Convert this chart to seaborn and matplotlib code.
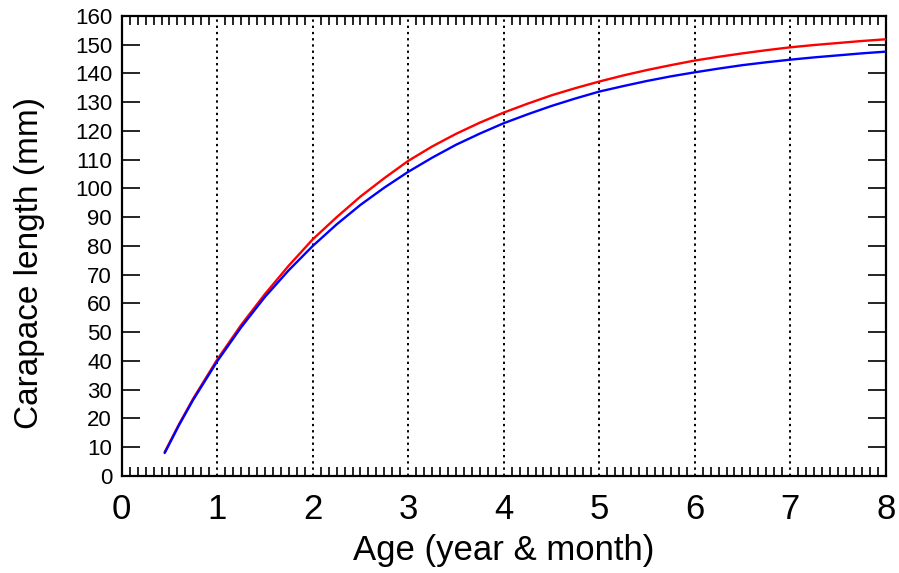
import numpy as np
import pandas as pd
import matplotlib
matplotlib.use("Agg")
import matplotlib.pyplot as plt
import seaborn as sns
from matplotlib.ticker import MultipleLocator

# Age (years) at which curves were read
age = [0.45, 0.6, 0.75, 1.0, 1.25, 1.5, 1.75, 2.0, 2.25, 2.5, 2.75, 3.0, 3.25, 3.5, 3.75, 4.0,
       4.25, 4.5, 4.75, 5.0, 5.25, 5.5, 5.75, 6.0, 6.25, 6.5, 6.75, 7.0, 7.25, 7.5, 7.75, 8.0]
# Carapace length (mm), red curve
red_len = [8.3, 18.0, 27.0, 40.5, 52.5, 63.3, 73.2, 82.3, 90.0, 97.2, 103.6, 109.6, 114.6, 119.0, 122.9, 126.4,
           129.5, 132.4, 134.9, 137.2, 139.3, 141.2, 142.9, 144.5, 145.8, 147.0, 148.1, 149.1, 149.9, 150.6, 151.3, 151.9]
# Carapace length (mm), blue curve
blue_len = [8.0, 17.7, 26.6, 39.9, 51.7, 62.3, 71.6, 80.0, 87.5, 94.3, 100.3, 105.8, 110.7, 115.2, 119.1, 122.7,
            125.8, 128.7, 131.3, 133.7, 135.6, 137.4, 139.0, 140.4, 141.7, 142.9, 143.9, 144.8, 145.6, 146.3, 147.0, 147.6]

series_names = ["red", "blue"]
series_colors = {"red": "#ff0000", "blue": "#0000ff"}

xticks = list(range(0, 9))
yticks = list(range(0, 161, 10))

df = pd.DataFrame({
    "age": age + age,
    "length": red_len + blue_len,
    "series": ["red"] * len(age) + ["blue"] * len(age),
})

sns.set_theme(style="white")
plt.rcParams["font.family"] = ["Liberation Sans", "DejaVu Sans"]
plt.rcParams["text.color"] = "black"
plt.rcParams["axes.labelcolor"] = "black"

fig = plt.figure(figsize=(8.99, 5.73), dpi=100)
ax = fig.add_axes([0.1354, 0.1693, 0.8498, 0.8028])

for x in xticks[1:-1]:
    ax.axvline(x, color="black", linestyle=(0, (1.2, 2.0)), linewidth=1.4, zorder=1)

sns.lineplot(data=df, x="age", y="length", hue="series", hue_order=series_names,
             palette=series_colors, linewidth=1.7, legend=False, ax=ax, zorder=3)

ax.set_xlim(0, 8)
ax.set_ylim(0, 160)
ax.set_xticks(xticks)
ax.set_yticks(yticks)
ax.xaxis.set_minor_locator(MultipleLocator(1 / 12))

for s in ax.spines.values():
    s.set_linewidth(1.6)
    s.set_color("black")
    s.set_visible(True)

ax.tick_params(axis="x", which="major", direction="in", length=0, top=True, bottom=True,
               labelsize=25, pad=12, colors="black")
ax.tick_params(axis="x", which="minor", direction="in", length=6.5, width=1.2,
               top=True, bottom=True, colors="black")
ax.tick_params(axis="y", which="major", direction="in", length=13, width=1.2,
               left=True, right=True, labelsize=16, pad=7, colors="black")

ax.set_xlabel("Age (year & month)", fontsize=25, labelpad=6)
ax.set_ylabel("Carapace length (mm)", fontsize=24)
ax.yaxis.set_label_coords(-0.100, 0.463)
ax.set_facecolor("white")
fig.patch.set_facecolor("white")

fig.savefig("out.png", dpi=100)
